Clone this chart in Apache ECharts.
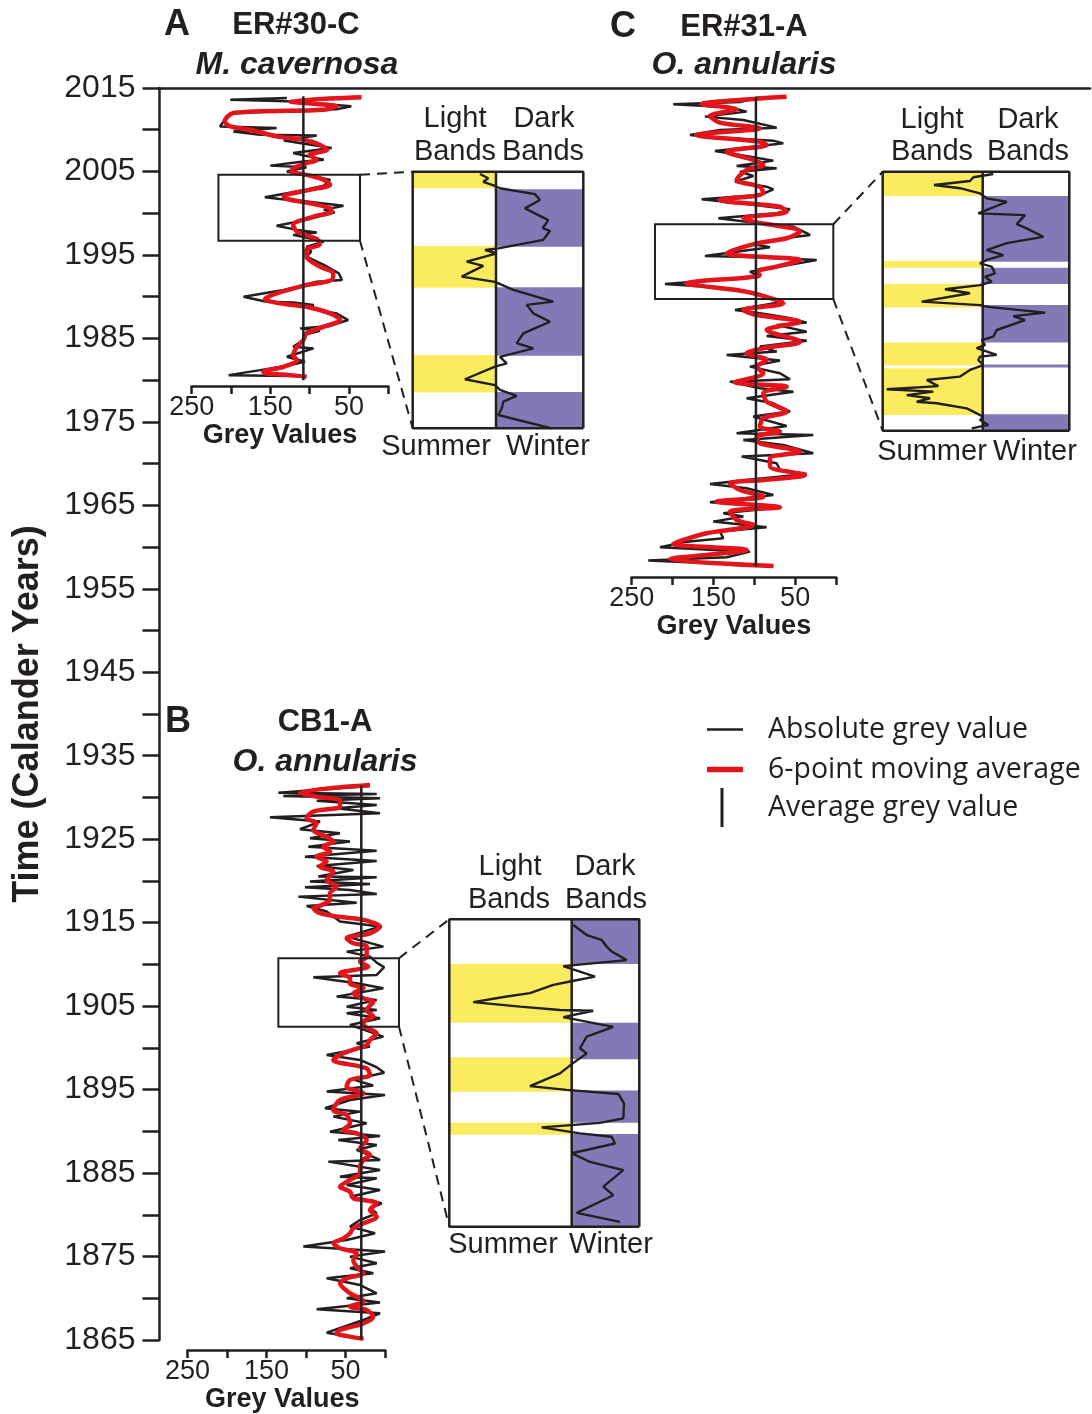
<!DOCTYPE html>
<html><head><meta charset="utf-8">
<script src="https://cdn.jsdelivr.net/npm/echarts@6/dist/echarts.min.js"></script>
<style>html,body{margin:0;padding:0;background:#fff}#c{width:1092px;height:1414px}</style>
</head><body><div id="c"></div>
<script>
// ================= DATA =================
const timeMin = 1865, timeMax = 2015, timeStep = 5;
const greyTickLabels = [250, 150, 50];

// ---- Panel A : ER#30-C, M. cavernosa  ([grey value, year]) ----
const aAbsolute = [[129,2013.8],[201,2013.6],[129,2013.4],[47,2012.8],[66,2012.45],[197,2012.0],[205,2011.6],[214,2010.4],[142,2010.2],[197,2009.8],[163,2009.4],[91,2009.3],[133,2008.7],[72,2007.8],[121,2007.2],[82,2006.4],[108,2006.2],[150,2005.7],[104,2005.5],[129,2005.0],[108,2004.6],[74,2004.0],[82,2003.3],[104,2002.8],[157,2001.9],[138,2001.7],[104,2001.4],[57,2000.9],[82,2000.4],[68,2000.1],[104,1999.2],[142,1998.5],[116,1998.0],[91,1997.7],[121,1997.4],[82,1996.6],[104,1996.0],[98,1995.4],[104,1994.8],[82,1993.8],[63,1992.8],[59,1992.0],[91,1991.8],[116,1991.2],[133,1990.8],[184,1990.0],[155,1989.4],[121,1989.3],[95,1989.0],[100,1988.6],[66,1988.0],[51,1987.2],[74,1986.5],[112,1986.2],[87,1985.9],[104,1985.5],[108,1984.8],[121,1984.0],[95,1983.8],[129,1982.8],[106,1982.2],[125,1981.8],[163,1981.2],[203,1980.6],[121,1980.5],[104,1980.4]];
const aMoving = [[34,2013.9],[125,2013.4],[66,2012.8],[82,2012.4],[197,2012.0],[208,2011.0],[201,2010.4],[176,2010.0],[142,2009.2],[108,2008.8],[87,2008.2],[78,2007.6],[100,2007.0],[91,2006.4],[104,2006.0],[121,2005.4],[123,2005.0],[104,2004.6],[82,2004.0],[74,2003.4],[100,2002.8],[133,2002.0],[129,2001.7],[100,2001.2],[74,2000.6],[72,2000.2],[95,1999.6],[121,1998.6],[116,1997.8],[91,1996.9],[87,1996.3],[104,1995.6],[104,1994.8],[87,1993.6],[70,1992.8],[72,1992.0],[108,1991.3],[142,1990.4],[157,1989.7],[138,1989.2],[104,1988.8],[74,1988.0],[61,1987.2],[82,1986.4],[104,1985.6],[108,1984.8],[116,1984.0],[121,1983.0],[116,1982.4],[133,1981.6],[159,1981.0],[155,1980.8],[125,1980.6],[104,1980.4]];
const aAverage = 108;
const aAverageSpan = [1980.0, 2014.0];
const aBoxGrey = [36, 216];
const aBoxYears = [1996.7, 2004.6];
const aInset = [[124,2004.53],[115.7,2004.40],[120.7,2004.29],[109,2004.16],[104,2004.09],[69,2003.91],[64,2003.73],[79,2003.47],[55.7,2003.11],[61.3,2002.86],[54,2002.78],[60.7,2002.50],[105.7,2002.24],[119,2002.19],[107.3,2002.09],[117.3,2002.0],[137.3,2001.83],[120.7,2001.70],[142.3,2001.37],[109,2001.21],[90.7,2000.96],[50.7,2000.60],[77.3,2000.50],[70.7,2000.24],[54,1999.98],[80.7,1999.62],[87.3,1999.32],[70.7,1999.16],[104,1998.90],[97.3,1998.70],[109,1998.60],[139,1998.21],[109,1998.03],[104,1997.88],[87.3,1997.70],[100.7,1997.52],[102.3,1997.31],[105.7,1997.11],[52.3,1996.70]];
const aLightBands = [[2004.09,2004.6],[2001.03,2002.31],[1997.80,1998.96]];
const aDarkBands = [[2002.29,2004.06],[1998.93,2001.04],[1996.7,1997.82]];

// ---- Panel C : ER#31-A, O. annularis ----
const cAbsolute = [[93,2013.9],[117.5,2013.32],[199.1,2013.04],[129.8,2012.69],[109.4,2012.17],[160.4,2011.57],[113.4,2011.17],[72.6,2010.25],[142,2009.97],[178.7,2009.37],[150.2,2009.09],[76.7,2008.69],[64.5,2008.37],[101.2,2007.97],[148.1,2007.45],[117.5,2006.97],[76.7,2006.3],[121.6,2005.66],[72.6,2005.38],[117.5,2004.98],[101.2,2004.46],[123.6,2003.78],[84.9,2003.18],[76.7,2002.86],[93.1,2002.18],[164.4,2001.66],[109.4,2001.1],[56.3,2000.46],[72.6,1999.98],[144,1999.39],[101.2,1998.87],[52.2,1998.39],[31.8,1997.39],[72.6,1996.87],[101.2,1996.31],[80.8,1995.91],[160.4,1994.87],[93.1,1994.71],[23.7,1994.39],[68.6,1993.6],[105.3,1993.0],[93.1,1992.4],[209.3,1991.52],[158.3,1991.2],[101.2,1990.48],[64.5,1989.4],[123.6,1988.4],[93.1,1988.0],[60.4,1987.52],[35.9,1986.89],[72.6,1986.61],[35.9,1985.81],[84.9,1985.29],[35.9,1984.73],[93.1,1984.02],[72.6,1983.42],[133.8,1983.02],[68.6,1982.34],[105.3,1981.62],[68.6,1980.82],[56.3,1980.1],[129.8,1979.82],[93.1,1979.02],[52.2,1978.62],[109.4,1977.82],[76.7,1977.23],[56.3,1976.23],[101.2,1975.63],[60.4,1974.51],[121.6,1973.63],[27.8,1973.43],[113.4,1972.83],[64.5,1972.23],[27.8,1971.24],[115.4,1970.84],[72.6,1970.04],[68.6,1969.24],[35.9,1968.76],[101.2,1968.12],[154.2,1967.56],[109.4,1967.04],[76.7,1966.24],[154.2,1965.37],[68.6,1964.77],[137.9,1964.05],[113.4,1963.65],[150.2,1963.05],[84.9,1962.37],[142,1961.85],[137.9,1961.05],[182.8,1960.65],[215.4,1959.97],[105.3,1959.45],[133.8,1958.77],[229.7,1958.38],[76.7,1957.74]];
const cMoving = [[60.4,2013.96],[97.1,2013.72],[164.4,2013.08],[121.6,2012.45],[154.2,2011.65],[142,2010.85],[93.1,2010.17],[170.6,2009.37],[93.1,2008.57],[84.9,2008.17],[133.8,2007.37],[101.2,2006.38],[88.9,2005.78],[109.4,2005.18],[121.6,2003.98],[93.1,2003.18],[88.9,2002.38],[142,2001.58],[68.6,2000.78],[60.4,2000.18],[113.4,1999.39],[101.2,1998.99],[44.1,1997.79],[60.4,1997.0],[97.1,1996.39],[133.8,1995.19],[44.1,1994.39],[72.6,1993.6],[97.1,1993.0],[93.1,1992.6],[182.8,1991.6],[121.6,1990.8],[93.1,1990.2],[64.5,1989.2],[113.4,1988.4],[97.1,1987.8],[44.1,1987.0],[84.9,1986.01],[44.1,1984.61],[88.9,1983.82],[109.4,1983.22],[84.9,1982.42],[97.1,1981.62],[88.9,1980.82],[123.6,1979.74],[60.4,1979.22],[88.9,1978.42],[84.9,1977.43],[60.4,1976.23],[88.9,1975.43],[93.1,1974.43],[68.6,1973.83],[97.1,1973.23],[93.1,1972.43],[44.1,1971.43],[80.8,1970.64],[80.8,1969.64],[38,1968.64],[88.9,1968.04],[129.8,1967.64],[117.5,1966.84],[88.9,1966.04],[146.1,1965.44],[68.6,1964.77],[129.8,1964.25],[121.6,1963.25],[101.2,1962.65],[158.3,1961.65],[186.9,1960.85],[199.1,1960.37],[109.4,1959.65],[203.2,1958.54],[76.7,1957.74]];
const cAverage = 98;
const cAverageSpan = [1957.66, 2013.96];
const cBoxGrey = [3.3, 221.5];
const cBoxYears = [1989.72, 1998.67];
const cInset = [[87.4,1998.59],[107.4,1998.48],[110.7,1998.35],[146.7,1998.21],[120.7,1998.10],[100.7,1997.92],[94,1997.75],[74,1997.63],[102.4,1997.23],[55.7,1997.17],[64,1996.86],[54,1996.71],[37.4,1996.42],[74,1996.20],[94,1995.96],[77.4,1995.79],[94,1995.62],[100.7,1995.50],[89,1995.39],[85.7,1995.16],[95.7,1995.04],[89,1994.87],[100.7,1994.75],[135.7,1994.61],[110.7,1994.47],[159,1994.18],[100.7,1994.06],[92.4,1994.00],[35.7,1993.80],[67.4,1993.68],[55.7,1993.54],[84,1993.20],[87.4,1992.97],[99,1992.85],[95.7,1992.68],[104,1992.57],[84,1992.34],[100.7,1992.28],[102.4,1992.16],[97.4,1991.99],[110.7,1991.82],[120.7,1991.59],[154,1991.47],[142.4,1991.26],[194,1991.15],[147.4,1991.07],[174,1990.95],[150.7,1990.84],[164,1990.72],[144,1990.67],[114,1990.49],[107.4,1990.38],[97.4,1990.20],[100.7,1990.09],[92.4,1989.92],[109,1989.80]];
const cLightBands = [[1997.83,1998.67],[1995.35,1995.58],[1993.98,1994.79],[1991.97,1992.77],[1990.26,1991.88]];
const cDarkBands = [[1995.56,1997.83],[1994.79,1995.35],[1992.77,1994.06],[1991.90,1992.01],[1989.72,1990.29]];

// ---- Panel B : CB1-A, O. annularis ----
const bAbsolute = [[19,1931.38],[135,1930.58],[10.5,1930.42],[128.7,1930.18],[6.3,1929.9],[86.5,1929.62],[10.5,1929.1],[61.2,1928.7],[6.3,1928.1],[145.6,1927.63],[82.3,1927.11],[107.6,1926.19],[57,1925.71],[95,1925.11],[44.3,1924.71],[97,1924.11],[10.5,1923.63],[101.3,1922.91],[10.5,1922.4],[86.5,1921.8],[40.1,1921.32],[84.4,1920.52],[10.5,1920.44],[95,1919.92],[19,1919.64],[101.3,1919.24],[44.3,1918.92],[10.5,1918.44],[109.7,1918.12],[35.9,1917.4],[99.2,1917.0],[73.8,1916.33],[57,1915.13],[6.3,1914.53],[48.5,1913.33],[2.1,1912.13],[48.5,1911.53],[19,1910.93],[10.5,1910.21],[1,1909.66],[10.5,1908.74],[90.7,1908.46],[35.9,1907.74],[2.1,1907.14],[61.2,1906.14],[10.5,1905.74],[48.5,1904.94],[10.5,1904.54],[48.5,1904.14],[6.3,1903.55],[44.3,1902.75],[2.1,1901.35],[35.9,1900.55],[19,1900.15],[73.8,1899.15],[31.6,1898.55],[10.5,1897.68],[1,1897.03],[40,1896.2],[15,1895.5],[73.8,1894.76],[0,1894.36],[44.3,1893.76],[76,1892.76],[31.6,1892.36],[65.4,1891.76],[23.2,1890.96],[69.6,1889.96],[6.3,1889.44],[59.1,1888.97],[10.5,1888.37],[35.9,1887.77],[6.3,1886.57],[71.7,1886.37],[6.3,1885.37],[57,1884.57],[10.5,1884.37],[48.5,1883.57],[6.3,1882.97],[44.3,1882.17],[4.2,1881.38],[19,1880.78],[10.5,1880.18],[31.6,1879.38],[44.3,1878.58],[12.6,1877.78],[48.5,1876.98],[103.4,1876.19],[0,1875.59],[44.3,1874.99],[10.5,1874.19],[44.3,1873.59],[14.8,1872.99],[73.8,1872.39],[31.6,1871.59],[10.5,1870.6],[48.5,1870.0],[6.3,1869.48],[86.5,1868.68],[6.3,1868.2],[27.4,1867.4],[73.8,1865.88],[27.4,1865.16]];
const bMoving = [[19,1931.5],[107.6,1930.58],[86.5,1930.1],[57,1929.62],[57,1928.9],[90.7,1928.31],[99.2,1927.51],[86.5,1926.91],[90.7,1926.11],[73.8,1925.31],[65.4,1924.71],[78.1,1924.11],[69.6,1923.51],[86.5,1922.91],[73.8,1922.32],[82.3,1921.72],[65.4,1921.12],[73.8,1920.12],[61.2,1919.32],[69.6,1918.52],[69.6,1917.72],[80.2,1917.12],[90.7,1916.72],[82.3,1916.13],[61.2,1915.73],[27.4,1915.33],[6.3,1914.53],[19,1913.73],[48.5,1913.13],[40.1,1912.53],[23.2,1912.13],[23.2,1910.93],[31.6,1910.33],[21.1,1909.74],[57,1908.94],[44.3,1908.34],[44.3,1907.74],[27.4,1907.14],[40.1,1906.54],[27.4,1905.94],[14.8,1905.54],[23.2,1904.54],[14.8,1903.75],[27.4,1903.15],[25.3,1902.55],[10.5,1901.75],[19,1900.95],[23.2,1900.35],[52.7,1899.35],[65.4,1898.55],[23.2,1897.55],[19,1896.75],[44.3,1896.15],[48.5,1895.35],[27.4,1894.56],[57,1893.76],[65.4,1892.56],[48.5,1891.96],[44.3,1890.96],[52.7,1890.16],[35.9,1889.76],[23.2,1888.97],[31.6,1887.97],[19,1887.17],[27.4,1886.57],[31.6,1885.77],[31.6,1884.97],[44.3,1884.17],[57,1883.37],[44.3,1882.77],[40.1,1881.98],[27.4,1881.78],[10.5,1881.38],[19,1880.58],[10.5,1879.78],[27.4,1878.98],[40.1,1878.38],[44.3,1877.78],[52.7,1877.18],[65.4,1876.59],[57,1875.99],[35.9,1875.39],[40.1,1874.59],[35.9,1873.79],[27.4,1872.99],[48.5,1872.39],[57,1871.79],[44.3,1870.6],[31.6,1870.0],[27.4,1869.6],[44.3,1869.0],[23.2,1868.6],[14.8,1867.8],[27.4,1867.0],[57,1866.2],[61.2,1865.8],[44.3,1865.4],[27.4,1865.16]];
const bAverage = 30;
const bAverageSpan = [1865.1, 1931.4];
const bBoxGrey = [-17.7, 135];
const bBoxYears = [1902.54, 1910.74];
const bInset = [[28.4,1910.59],[15,1910.32],[0,1910.19],[-5,1910.01],[-10,1909.88],[-25,1909.65],[38.4,1909.49],[31.7,1909.43],[6.7,1909.21],[31.7,1909.08],[48.4,1908.99],[71.7,1908.77],[95,1908.68],[128.4,1908.53],[81.7,1908.41],[41.7,1908.32],[8.4,1908.30],[38.4,1908.13],[-11.6,1907.87],[15,1907.61],[21.7,1907.30],[15,1907.16],[28.4,1906.91],[41.7,1906.63],[71.7,1906.29],[35,1906.19],[-16.6,1906.08],[-22.3,1905.83],[-21.6,1905.43],[1.7,1905.31],[60,1905.19],[21.7,1905.03],[-10,1904.94],[-13.3,1904.76],[30,1904.50],[11.7,1904.27],[-21.6,1904.05],[-1.6,1903.61],[-11.6,1903.38],[25,1902.91],[-18.3,1902.67]];
const bLightBands = [[1907.98,1909.55],[1906.14,1907.06],[1904.99,1905.31]];
const bDarkBands = [[1909.55,1910.74],[1907.01,1907.98],[1905.31,1906.17],[1902.54,1905.01]];

// ================= LAYOUT / STYLE =================
const INK = '#231f20', RED = '#e3141c', YEL = '#fbec5f', PUR = '#8379b7';
const FONT = "'Liberation Sans', Arial, Helvetica, sans-serif";
const LFONT = "'Open Sans', 'Noto Sans', sans-serif";
const TOP = 88, PXY = 1252 / (timeMax - timeMin);
const panelLayout = {
  A: {left: 191.7, width: 196.6, axisYear: timeMax - (386 - TOP) / PXY, namePad: [0, 20, 0, 0]},
  C: {left: 631.7, width: 204.3, axisYear: timeMax - (577 - TOP) / PXY, namePad: [0, 0, 0, 0]},
  B: {left: 187.5, width: 197.5, axisYear: timeMax - (1350 - TOP) / PXY, namePad: [0, 8, 0, 0]}
};
const insetLayout = {
  A: {left: 412.7, top: 171.7, width: 170.6, height: 256.6, xmin: 20.7, xmax: 191.3},
  C: {left: 882.7, top: 171.7, width: 186.6, height: 259, xmin: 11.4, xmax: 198},
  B: {left: 449.3, top: 919.3, width: 190, height: 307.4, xmin: -37.6, xmax: 152.4}
};

const grids = [{left: 159.5, top: TOP, right: 2, height: 1252, outerBoundsMode: 'none', containLabel: false}];
const xAxes = [{gridIndex: 0, type: 'value', min: 0, max: 1, position: 'top',
  axisLine: {show: true, onZero: false, lineStyle: {color: INK, width: 2.5}},
  axisTick: {show: false}, axisLabel: {show: false}, splitLine: {show: false}}];
const yAxes = [{gridIndex: 0, type: 'value', min: timeMin, max: timeMax, interval: timeStep,
  axisLine: {show: true, onZero: false, lineStyle: {color: INK, width: 2.5}},
  axisTick: {show: true, inside: false, length: 17, lineStyle: {color: INK, width: 2.5}},
  axisLabel: {show: true, margin: 24, fontSize: 32, fontFamily: FONT, color: INK,
    formatter: v => ((v - timeMin) % 10 === 0 ? String(v) : '')},
  splitLine: {show: false},
  name: 'Time (Calander Years)', nameLocation: 'middle', nameRotate: 90, nameGap: 113, nameMoveOverlap: false,
  nameTextStyle: {fontSize: 36, fontWeight: 'bold', fontFamily: FONT, color: INK}}];
const series = [];

function addPanel(key, absolute, moving, avg, avgSpan) {
  const L = panelLayout[key];
  const gi = grids.length;
  grids.push({left: L.left, width: L.width, top: TOP, height: (timeMax - L.axisYear) * PXY, outerBoundsMode: 'none', containLabel: false});
  xAxes.push({gridIndex: gi, type: 'value', min: 0, max: 250, interval: 50, inverse: true, position: 'bottom',
    axisLine: {show: true, onZero: false, lineStyle: {color: INK, width: 2.5}},
    axisTick: {show: true, inside: false, length: 8, lineStyle: {color: INK, width: 2.5}},
    axisLabel: {show: true, margin: 8, fontSize: 27, fontFamily: FONT, color: INK,
      formatter: v => (greyTickLabels.indexOf(v) >= 0 ? String(v) : '')},
    splitLine: {show: false},
    name: 'Grey Values', nameLocation: 'middle', nameGap: 36, nameMoveOverlap: false,
    nameTextStyle: {fontSize: 27, fontWeight: 'bold', fontFamily: FONT, color: INK, padding: L.namePad}});
  yAxes.push({gridIndex: gi, type: 'value', min: L.axisYear, max: timeMax, show: false, splitLine: {show: false}});
  series.push({name: 'Absolute grey value', type: 'line', xAxisIndex: gi, yAxisIndex: gi, data: absolute,
    showSymbol: false, symbol: 'none', color: INK, lineStyle: {color: INK, width: 2.5}, z: 2, silent: true});
  series.push({name: '6-point moving average', type: 'line', xAxisIndex: gi, yAxisIndex: gi, data: moving,
    showSymbol: false, symbol: 'none', smooth: 0.3, color: RED, lineStyle: {color: RED, width: 4.5}, z: 3, silent: true});
  series.push({name: 'Average grey value', type: 'line', xAxisIndex: gi, yAxisIndex: gi,
    data: [[avg, avgSpan[0]], [avg, avgSpan[1]]],
    showSymbol: false, symbol: 'none', color: INK, lineStyle: {color: INK, width: 2.5}, z: 4, silent: true});
  return gi;
}

function addInset(key, line, avg, years, light, dark) {
  const L = insetLayout[key];
  const gi = grids.length;
  grids.push({left: L.left, top: L.top, width: L.width, height: L.height, outerBoundsMode: 'none', containLabel: false});
  xAxes.push({gridIndex: gi, type: 'value', min: L.xmin, max: L.xmax, inverse: true, show: false, splitLine: {show: false}});
  yAxes.push({gridIndex: gi, type: 'value', min: years[0], max: years[1], show: false, splitLine: {show: false}});
  const bandSeries = (bands, x0, x1, fill) => ({
    type: 'custom', xAxisIndex: gi, yAxisIndex: gi, data: bands, z: 1, silent: true, clip: true,
    renderItem: (params, api) => {
      const p0 = api.coord([x0, api.value(1)]);
      const p1 = api.coord([x1, api.value(0)]);
      return {type: 'rect', shape: {x: Math.min(p0[0], p1[0]), y: Math.min(p0[1], p1[1]),
        width: Math.abs(p1[0] - p0[0]), height: Math.abs(p1[1] - p0[1])}, style: {fill: fill}};
    }
  });
  series.push(bandSeries(light, L.xmax, avg, YEL));
  series.push(bandSeries(dark, avg, L.xmin, PUR));
  series.push({name: 'inset grey ' + key, type: 'line', xAxisIndex: gi, yAxisIndex: gi, data: line,
    showSymbol: false, symbol: 'none', color: INK, lineStyle: {color: INK, width: 2.4}, z: 4, silent: true});
  series.push({name: 'inset frame ' + key, type: 'line', xAxisIndex: gi, yAxisIndex: gi, clip: false,
    data: [[L.xmin, years[0]], [L.xmin, years[1]], [L.xmax, years[1]], [L.xmax, years[0]], [L.xmin, years[0]]],
    showSymbol: false, symbol: 'none', color: INK, lineStyle: {color: INK, width: 2.5}, z: 5, silent: true});
  series.push({name: 'inset divider ' + key, type: 'line', xAxisIndex: gi, yAxisIndex: gi, clip: false,
    data: [[avg, years[0]], [avg, years[1]]],
    showSymbol: false, symbol: 'none', color: INK, lineStyle: {color: INK, width: 2.5}, z: 5, silent: true});
  return gi;
}

const gA = addPanel('A', aAbsolute, aMoving, aAverage, aAverageSpan);
const gC = addPanel('C', cAbsolute, cMoving, cAverage, cAverageSpan);
const gB = addPanel('B', bAbsolute, bMoving, bAverage, bAverageSpan);
const iA = addInset('A', aInset, aAverage, aBoxYears, aLightBands, aDarkBands);
const iC = addInset('C', cInset, cAverage, cBoxYears, cLightBands, cDarkBands);
const iB = addInset('B', bInset, bAverage, bBoxYears, bLightBands, bDarkBands);

const legendText = {fontFamily: LFONT, fontSize: 28.5, color: INK};
const option = {
  animation: false,
  backgroundColor: '#fff',
  grid: grids, xAxis: xAxes, yAxis: yAxes, series: series,
  legend: [
    {data: ['Absolute grey value'], left: 707, top: 715, padding: 0, icon: 'rect', itemWidth: 36, itemHeight: 2.5,
      selectedMode: false, itemStyle: {borderWidth: 0}, textStyle: Object.assign({padding: [0, 0, 0, 20]}, legendText)},
    {data: ['6-point moving average'], left: 707, top: 755, padding: 0, icon: 'rect', itemWidth: 36, itemHeight: 5.5,
      selectedMode: false, itemStyle: {borderWidth: 0}, textStyle: Object.assign({padding: [0, 0, 0, 20]}, legendText)},
    {data: ['Average grey value'], left: 720.5, top: 788, padding: 0, icon: 'rect', itemWidth: 3, itemHeight: 39,
      selectedMode: false, itemStyle: {borderWidth: 0}, textStyle: Object.assign({padding: [0, 0, 0, 39.5]}, legendText)}
  ]
};

const chart = echarts.init(document.getElementById('c'));
chart.setOption(option);

function txt(text, x, y, size, weight, style) {
  return {type: 'text', x: x, y: y, z: 10, silent: true,
    style: {text: text, fill: INK, fontSize: size, fontWeight: weight || 'normal', fontStyle: style || 'normal',
      fontFamily: FONT, align: 'center', verticalAlign: 'middle'}};
}
const IS = 29;
const els = [
  txt('A', 177, 25, 36, 'bold'), txt('ER#30-C', 296, 25, 31, 'bold'), txt('M. cavernosa', 297, 65, 32, 'bold', 'italic'),
  txt('C', 623, 27, 36, 'bold'), txt('ER#31-A', 744, 27, 31, 'bold'), txt('O. annularis', 744, 65, 32, 'bold', 'italic'),
  txt('B', 178, 722, 36, 'bold'), txt('CB1-A', 325, 722, 31, 'bold'), txt('O. annularis', 325, 762, 32, 'bold', 'italic'),
  txt('Light', 455, 119, IS), txt('Bands', 455, 152, IS), txt('Dark', 544, 119, IS), txt('Bands', 543, 152, IS),
  txt('Summer', 436, 447, IS), txt('Winter', 548, 447, IS),
  txt('Light', 932, 120, IS), txt('Bands', 932, 152, IS), txt('Dark', 1028, 120, IS), txt('Bands', 1028, 152, IS),
  txt('Summer', 932, 452, IS), txt('Winter', 1035, 452, IS),
  txt('Light', 510, 867, IS), txt('Bands', 509, 900, IS), txt('Dark', 605, 867, IS), txt('Bands', 606, 900, IS),
  txt('Summer', 503, 1245, IS), txt('Winter', 611, 1245, IS)
];
// zoom boxes and dashed connectors, placed through the grids' own scales
function boxAndLinks(panelGi, insetGi, boxGrey, boxYears, insetKey) {
  const L = insetLayout[insetKey];
  const tl = chart.convertToPixel({gridIndex: panelGi}, [boxGrey[1], boxYears[1]]);
  const br = chart.convertToPixel({gridIndex: panelGi}, [boxGrey[0], boxYears[0]]);
  const out = [{type: 'rect', z: 6, silent: true,
    shape: {x: Math.min(tl[0], br[0]), y: Math.min(tl[1], br[1]), width: Math.abs(br[0] - tl[0]), height: Math.abs(br[1] - tl[1])},
    style: {fill: 'none', stroke: INK, lineWidth: 2}}];
  [boxYears[1], boxYears[0]].forEach(yr => {
    const p = chart.convertToPixel({gridIndex: panelGi}, [boxGrey[0], yr]);
    const q = chart.convertToPixel({gridIndex: insetGi}, [L.xmax, yr]);
    out.push({type: 'line', z: 6, silent: true, shape: {x1: p[0], y1: p[1], x2: q[0], y2: q[1]},
      style: {stroke: INK, lineWidth: 2, lineDash: [10, 7]}});
  });
  return out;
}
const extras = [].concat(
  boxAndLinks(gA, iA, aBoxGrey, aBoxYears, 'A'),
  boxAndLinks(gC, iC, cBoxGrey, cBoxYears, 'C'),
  boxAndLinks(gB, iB, bBoxGrey, bBoxYears, 'B'));
chart.setOption({graphic: {elements: els.concat(extras)}});
</script>
</body></html>
